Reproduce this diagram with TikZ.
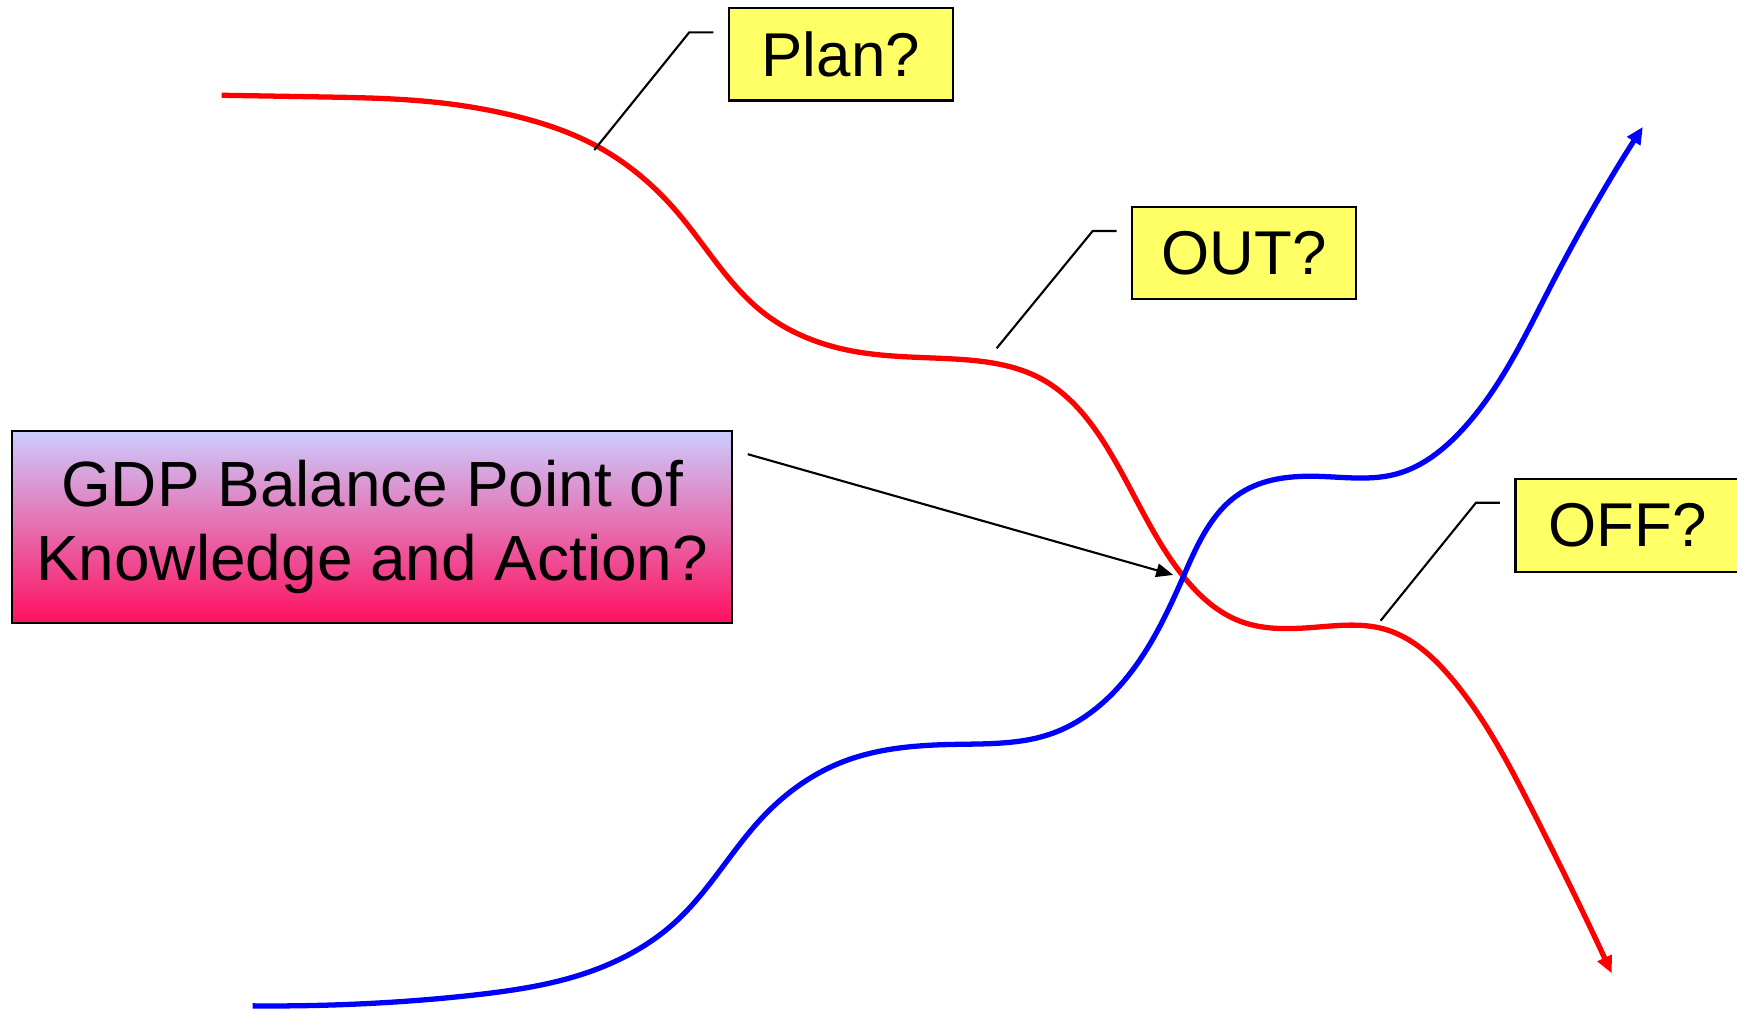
\documentclass[tikz,border=0pt]{standalone}
\usepackage{fontspec}
\setmainfont{Liberation Sans}
\usepackage{tikz}
\usetikzlibrary{ arrows.meta, % For the filled arrow tips
                 positioning, % For easy node-relative placements
                 hobby,       % For smooth curves through points
               }
\definecolor{noteyellow}{RGB}{255,255,102}
\definecolor{gdptop}{RGB}{204,204,255}
\definecolor{gdpbottom}{RGB}{255,16,96}
\tikzstyle{note} = [rectangle, draw=black, line width=0.6pt, fill=noteyellow, minimum width=22.38mm, minimum height=9.25mm, inner sep=0pt, font=\fontsize{17.6}{20}\selectfont]
\tikzstyle{gdp_box} = [rectangle, draw=black, line width=0.6pt, top color=gdptop, bottom color=gdpbottom, minimum width=72mm, minimum height=19.2mm, inner sep=0pt, align=center, font=\fontsize{18.2}{21.1}\selectfont]
\tikzstyle{leader} = [draw=black, line width=0.6pt]
\tikzstyle{pointer} = [->, >={Triangle[length=1.7mm, width=1.35mm]}, draw=black, line width=0.6pt]
\tikzstyle{trend} = [->, >={Triangle[length=1.7mm, width=1.5mm]}, line width=1.5pt]

\begin{document}
\begin{tikzpicture}[x=0.1108mm, y=-0.1108mm]
  \useasboundingbox (0, 0) rectangle (1568, 911.6);

  % the two paths
  \draw [trend, red] (200,86) to[curve through={(290,87.5) (390,92) (470,106) (537,131) (610,190) (690,283) (770,317) (860,324) (940,342) (1000,405) (1068,520) (1120,561) (1190,566) (1250,568) (1310,612) (1380,725)}] (1454.9,878.6);
  \draw [trend, blue] (228,908) to[curve through={(330,906) (430,898) (530,878) (610,832) (690,736) (760,688) (860,672) (950,662) (1010,620) (1068,521) (1120,445) (1190,430) (1260,428) (1320,388) (1400,258)}] (1483,114.6);

  % labels
  \node (plan) [note] at (759, 49) {Plan?};
  \node (out) [note] at (1123, 228.5) {OUT?};
  \node (off) [note] at (1469, 474.5) {OFF?};
  \node (gdp) [gdp_box] at (336, 475.5) {GDP Balance Point of\\Knowledge and Action?};

  % callout leaders
  \coordinate (plan_foot) at (536.5, 135.4);
  \coordinate (plan_knee) at (622.2, 29.2);
  \coordinate (plan_end) at (643.9, 29.2);
  \coordinate (out_foot) at (899.7, 314.4);
  \coordinate (out_knee) at (986.4, 208.5);
  \coordinate (out_end) at (1008, 208.5);
  \coordinate (off_foot) at (1246.3, 560.3);
  \coordinate (off_knee) at (1332.4, 453.8);
  \coordinate (off_end) at (1354, 453.8);
  \coordinate (gdp_start) at (675, 410);
  \coordinate (cross) at (1059.1, 519);

  \path [leader] (plan_foot) -- (plan_knee) -- (plan_end);
  \path [leader] (out_foot) -- (out_knee) -- (out_end);
  \path [leader] (off_foot) -- (off_knee) -- (off_end);
  \path [pointer] (gdp_start) -- (cross);
\end{tikzpicture}
\end{document}
